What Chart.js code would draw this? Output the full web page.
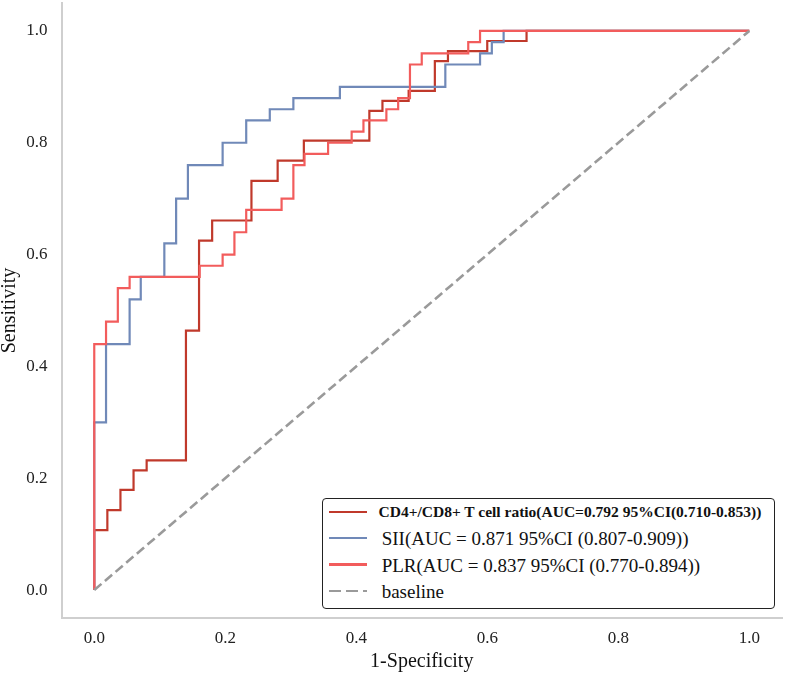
<!DOCTYPE html>
<html>
<head>
<meta charset="utf-8">
<script src="https://cdn.jsdelivr.net/npm/chart.js@4.4.1/dist/chart.umd.min.js"></script>
<style>
  html, body { margin: 0; padding: 0; background: #ffffff; }
  #wrap { position: relative; width: 785px; height: 675px; overflow: hidden; }
  #c { display: block; }
  .legbox { position: absolute; box-sizing: border-box; border: 1.4px solid #222; border-radius: 4px; background: #fff; }
  .sw { position: absolute; height: 2.4px; }
  .lt { position: absolute; white-space: nowrap; line-height: 1; transform: translateY(-50%);
        font-family: 'Liberation Serif', 'Times New Roman', serif; color: #111; }
</style>
</head>
<body>
<div id="wrap">
  <canvas id="c" width="785" height="675"></canvas>
  <div id="legend"></div>
</div>
<script>
// ---------- data ----------
const seriesNames = [
  'CD4+/CD8+ T cell ratio(AUC=0.792 95%CI(0.710-0.853))',
  'SII(AUC = 0.871 95%CI (0.807-0.909))',
  'PLR(AUC = 0.837 95%CI (0.770-0.894))',
  'baseline'
];

// CD4+/CD8+ T cell ratio : 1-specificity (x) and sensitivity (y)
const cd4Fpr = [0,0,0.02,0.02,0.04,0.04,0.06,0.06,0.08,0.08,0.14,0.14,0.16,0.16,0.18,0.18,0.24,0.24,0.28,0.28,0.32,0.32,0.42,0.42,0.44,0.44,0.48,0.48,0.52,0.52,0.54,0.54,0.60,0.60,0.66,0.66,1];
const cd4Tpr = [0,0.107,0.107,0.143,0.143,0.179,0.179,0.214,0.214,0.232,0.232,0.464,0.464,0.625,0.625,0.661,0.661,0.732,0.732,0.768,0.768,0.804,0.804,0.857,0.857,0.875,0.875,0.893,0.893,0.946,0.946,0.964,0.964,0.982,0.982,1,1];

// SII
const siiFpr = [0,0,0.018,0.018,0.054,0.054,0.071,0.071,0.107,0.107,0.125,0.125,0.143,0.143,0.196,0.196,0.232,0.232,0.268,0.268,0.304,0.304,0.375,0.375,0.536,0.536,0.589,0.589,0.607,0.607,0.625,0.625,1];
const siiTpr = [0,0.30,0.30,0.44,0.44,0.52,0.52,0.56,0.56,0.62,0.62,0.70,0.70,0.76,0.76,0.80,0.80,0.84,0.84,0.86,0.86,0.88,0.88,0.90,0.90,0.94,0.94,0.96,0.96,0.98,0.98,1,1];

// PLR
const plrFpr = [0,0,0.018,0.018,0.036,0.036,0.054,0.054,0.161,0.161,0.196,0.196,0.214,0.214,0.232,0.232,0.286,0.286,0.304,0.304,0.321,0.321,0.357,0.357,0.393,0.393,0.411,0.411,0.446,0.446,0.464,0.464,0.482,0.482,0.5,0.5,0.571,0.571,0.589,0.589,1];
const plrTpr = [0,0.44,0.44,0.48,0.48,0.54,0.54,0.56,0.56,0.58,0.58,0.60,0.60,0.64,0.64,0.68,0.68,0.70,0.70,0.76,0.76,0.78,0.78,0.80,0.80,0.82,0.82,0.84,0.84,0.86,0.86,0.88,0.88,0.94,0.94,0.96,0.96,0.98,0.98,1,1];

// reference diagonal
const baseFpr = [0, 1];
const baseTpr = [0, 1];

const xTicks = [0.0, 0.2, 0.4, 0.6, 0.8, 1.0];
const yTicks = [0.0, 0.2, 0.4, 0.6, 0.8, 1.0];

// ---------- styling ----------
const colors = ['#c0392b', '#7089b8', '#f25c5c', '#9a9a9a'];
const serif = "'Liberation Serif', 'Times New Roman', serif";

function pts(xs, ys) { return xs.map((x, i) => ({ x: x, y: ys[i] })); }

const common = { showLine: true, pointRadius: 0, pointHoverRadius: 0, tension: 0, fill: false,
                 borderJoinStyle: 'miter', borderCapStyle: 'butt' };

const datasets = [
  Object.assign({ label: seriesNames[0], data: pts(cd4Fpr, cd4Tpr), borderColor: colors[0], borderWidth: 2.2, order: 4 }, common),
  Object.assign({ label: seriesNames[1], data: pts(siiFpr, siiTpr), borderColor: colors[1], borderWidth: 2.2, order: 3 }, common),
  Object.assign({ label: seriesNames[2], data: pts(plrFpr, plrTpr), borderColor: colors[2], borderWidth: 2.2, order: 2 }, common),
  Object.assign({ label: seriesNames[3], data: pts(baseFpr, baseTpr), borderColor: colors[3], borderWidth: 2.6, borderDash: [9.5, 4.5], order: 1 }, common)
];

new Chart(document.getElementById('c'), {
  type: 'scatter',
  data: { datasets: datasets },
  options: {
    responsive: false,
    animation: false,
    devicePixelRatio: 1,
    layout: { padding: { top: 3, right: 3, left: 0, bottom: 0 } },
    plugins: { legend: { display: false }, tooltip: { enabled: false } },
    scales: {
      x: {
        type: 'linear', min: -0.05, max: 1.05,
        afterBuildTicks: s => { s.ticks = xTicks.map(v => ({ value: v })); },
        afterFit: s => { s.height = 57; s.paddingLeft = 0; s.paddingRight = 0; },
        grid: { display: false, drawTicks: false },
        border: { display: true, color: '#cfcfcf', width: 2 },
        ticks: { padding: 10, color: '#222', font: { family: serif, size: 17 }, callback: v => Number(v).toFixed(1), maxRotation: 0 },
        title: { display: true, text: '1-Specificity', color: '#111', font: { family: serif, size: 20, lineHeight: 1 }, padding: { top: 0, bottom: 3 } }
      },
      y: {
        type: 'linear', min: -0.05, max: 1.05,
        afterBuildTicks: s => { s.ticks = yTicks.map(v => ({ value: v })); },
        afterFit: s => { s.width = 61.5; s.paddingTop = 0; s.paddingBottom = 0; },
        grid: { display: false, drawTicks: false },
        border: { display: true, color: '#cfcfcf', width: 2 },
        ticks: { padding: 14, color: '#222', font: { family: serif, size: 17 }, callback: v => Number(v).toFixed(1) },
        title: { display: true, text: 'Sensitivity', color: '#111', font: { family: serif, size: 20, lineHeight: 1 }, padding: { top: 0, bottom: 0 } }
      }
    }
  }
});

// ---------- legend (HTML text) ----------
(function buildLegend() {
  const leg = document.getElementById('legend');
  const box = document.createElement('div');
  box.className = 'legbox';
  box.style.left = '321.5px'; box.style.top = '497.5px';
  box.style.width = '453px'; box.style.height = '111px';
  leg.appendChild(box);
  const rowsY = [511.7, 538.3, 564.5, 590.7];
  const textX = [378.5, 381.7, 381.7, 381.7];
  const fonts = ['bold 15.5px', '19px', '19px', '19px'];
  seriesNames.forEach((name, i) => {
    const sw = document.createElement('div');
    sw.className = 'sw';
    sw.style.left = '328.5px'; sw.style.width = '38px';
    sw.style.top = (rowsY[i] - 1.2) + 'px';
    if (i === 3) {
      sw.style.background = 'repeating-linear-gradient(to right, ' + colors[3] + ' 0 12px, transparent 12px 17px)';
      sw.style.height = '2.8px';
    } else {
      sw.style.background = colors[i];
    }
    leg.appendChild(sw);
    const t = document.createElement('div');
    t.className = 'lt';
    t.style.left = textX[i] + 'px';
    t.style.top = rowsY[i] + 'px';
    t.style.font = fonts[i] + ' ' + serif;
    t.style.lineHeight = '1';
    t.textContent = name;
    leg.appendChild(t);
  });
})();
</script>
</body>
</html>
